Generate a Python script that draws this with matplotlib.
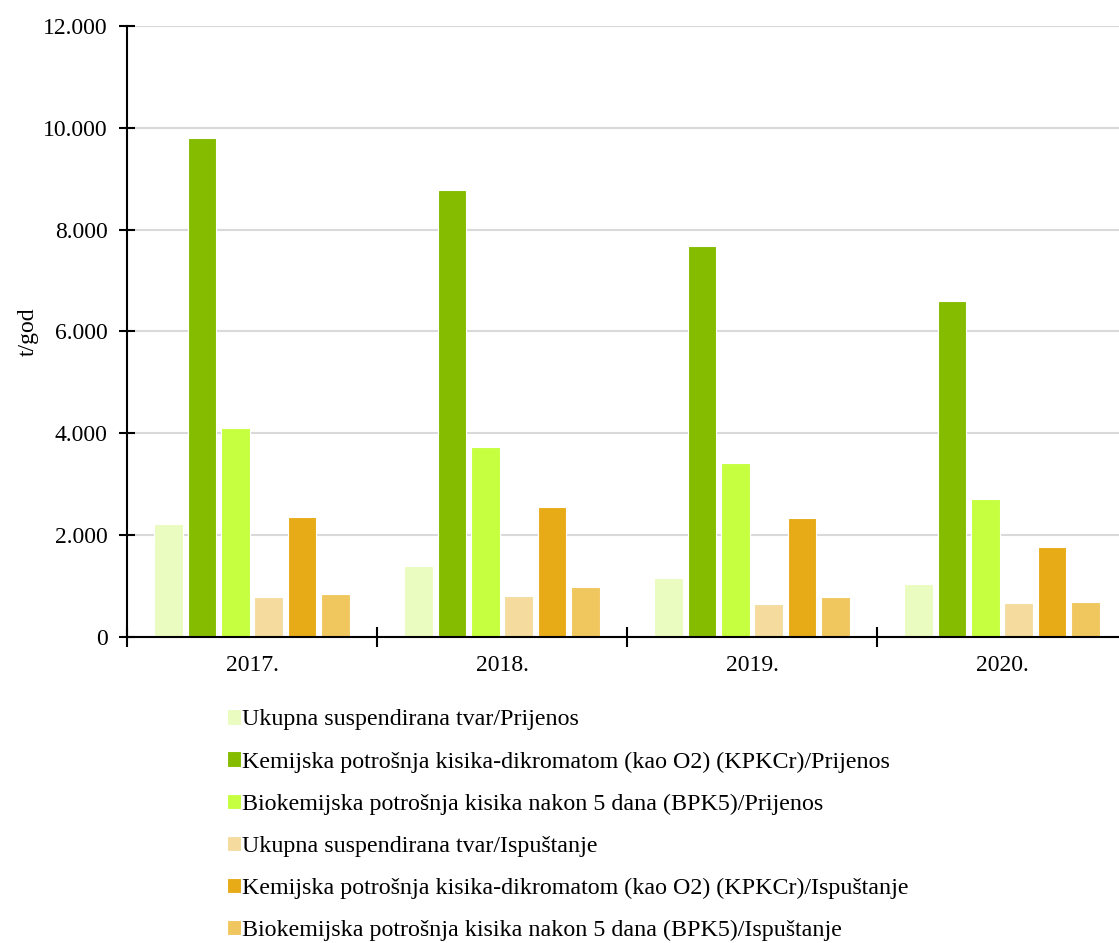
import matplotlib.pyplot as plt
import numpy as np
from matplotlib.ticker import FuncFormatter

plt.rcParams['font.family'] = ['Liberation Serif', 'DejaVu Serif']

years = ["2017.", "2018.", "2019.", "2020."]
series = [
    "Ukupna suspendirana tvar/Prijenos",
    "Kemijska potrošnja kisika-dikromatom (kao O2) (KPKCr)/Prijenos",
    "Biokemijska potrošnja kisika nakon 5 dana (BPK5)/Prijenos",
    "Ukupna suspendirana tvar/Ispuštanje",
    "Kemijska potrošnja kisika-dikromatom (kao O2) (KPKCr)/Ispuštanje",
    "Biokemijska potrošnja kisika nakon 5 dana (BPK5)/Ispuštanje",
]
ust_prijenos = [2210, 1400, 1155, 1050]
kpk_prijenos = [9790, 8770, 7670, 6590]
bpk_prijenos = [4110, 3740, 3410, 2710]
ust_ispustanje = [790, 810, 650, 660]
kpk_ispustanje = [2350, 2560, 2330, 1760]
bpk_ispustanje = [835, 990, 780, 690]
values = [ust_prijenos, kpk_prijenos, bpk_prijenos,
          ust_ispustanje, kpk_ispustanje, bpk_ispustanje]
colors = ["#EAFCC0", "#86BC00", "#C5FF3F", "#F5DC9E", "#E6AB17", "#F0C75E"]

fig = plt.figure(figsize=(11.19, 9.43), dpi=100)
ax = fig.add_axes([0.1135, 0.3245, 0.8937, 0.648])

x = np.arange(len(years))
step = 0.1333
for i, (name, vals, col) in enumerate(zip(series, values, colors)):
    ax.bar(x + (i - 2.5) * step, vals, width=0.115, color=col,
           edgecolor="white", linewidth=0.8, label=name, zorder=3)

ax.set_xlim(-0.5, len(years) - 0.5)
ax.set_ylim(0, 12000)
ax.set_yticks(np.arange(0, 12001, 2000))
ax.yaxis.set_major_formatter(FuncFormatter(lambda v, p: f"{int(v):,}".replace(",", ".")))
ax.set_xticks(x)
ax.set_xticklabels(years)
ax.set_xticks(np.arange(len(years) + 1) - 0.5, minor=True)
ax.tick_params(axis="x", which="major", length=0, pad=13, labelsize=17)
ax.tick_params(axis="x", which="minor", direction="inout", length=14, width=1.5)
ax.tick_params(axis="y", direction="inout", length=12, width=1.5, labelsize=17, pad=8)

ax.grid(axis="y", color="#d9d9d9", linewidth=1.5, zorder=0)
for s in ["top", "right"]:
    ax.spines[s].set_visible(False)
for s in ["left", "bottom"]:
    ax.spines[s].set_linewidth(1.5)
    ax.spines[s].set_zorder(4)

ax.set_ylabel("t/god", fontsize=17, labelpad=3)

fig.legend(loc="upper left", bbox_to_anchor=(0.194, 0.258), frameon=False,
           fontsize=17.3, handlelength=0.6, handleheight=0.6, handletextpad=0.05,
           labelspacing=0.87, borderaxespad=0)

fig.savefig("out.png", dpi=100)
